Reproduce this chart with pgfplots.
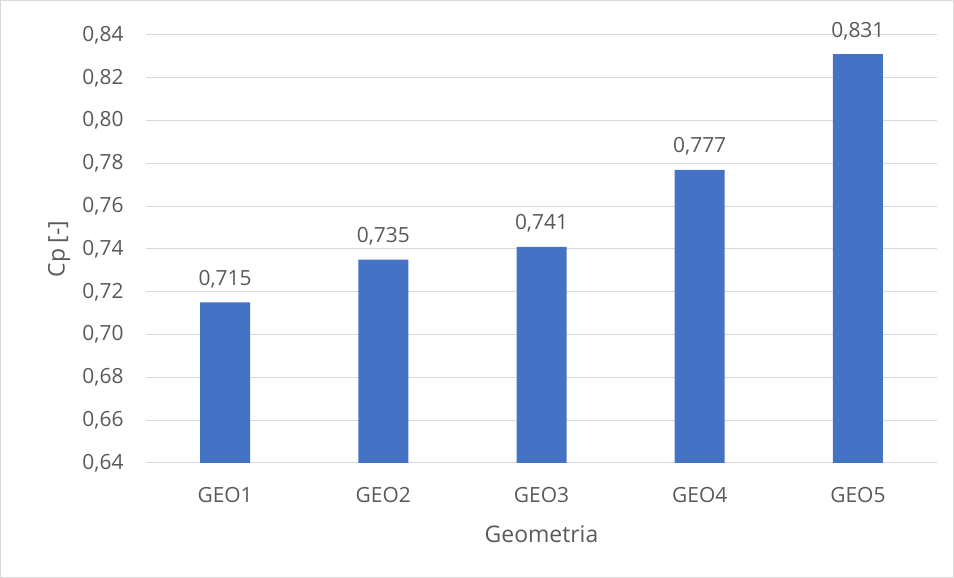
\documentclass[border=0pt]{standalone}
\usepackage{fontspec}
\setmainfont{Open Sans}
\usepackage{pgfplots}
\pgfplotsset{compat=1.18}
\definecolor{barblue}{HTML}{4472C4}
\definecolor{txt}{HTML}{595959}
\definecolor{gridc}{HTML}{D9D9D9}
\begin{document}
\begin{tikzpicture}[x=1bp,y=1bp]
\useasboundingbox (0,0) rectangle (954,578);
\draw[gridc, line width=1bp] (0.5,0.5) rectangle (953.5,577.5);
\begin{axis}[
  at={(146bp,115bp)}, anchor=south west,
  scale only axis, width=791bp, height=428bp,
  xmin=-0.5, xmax=4.5, ymin=0.64, ymax=0.84,
  ytick={0.64,0.66,0.68,0.70,0.72,0.74,0.76,0.78,0.80,0.82,0.84},
  xtick={0,1,2,3,4},
  xticklabels={GEO1,GEO2,GEO3,GEO4,GEO5},
  ymajorgrids, grid style={gridc, line width=1bp},
  axis x line*=bottom, axis y line*=left,
  y axis line style={draw=none},
  x axis line style={gridc, line width=1bp, -},
  major tick length=0pt,
  clip=false,
  /pgf/number format/assume math mode=true,
  yticklabel style={/pgf/number format/fixed, /pgf/number format/fixed zerofill, /pgf/number format/precision=2, /pgf/number format/use comma},
  tick label style={font=\fontsize{21}{25}\selectfont, text=txt},
  yticklabel style={xshift=-19bp},
  xticklabel style={anchor=base, yshift=-40bp},
  ybar, bar width=50bp,
  nodes near coords={\pgfmathprintnumber[fixed,fixed zerofill,precision=3,use comma,assume math mode=true]{\pgfplotspointmeta}},
  every node near coord/.append style={font=\fontsize{21}{25}\selectfont, text=txt, anchor=base, yshift=17bp},
]
\addplot[fill=barblue, draw=none] coordinates {(0,0.715) (1,0.735) (2,0.741) (3,0.777) (4,0.831)};
\node[rotate=90, anchor=center, font=\fontsize{23}{27}\selectfont, text=txt] at (rel axis cs:-0.110,0.5) {Cp [-]};
\node[anchor=base, font=\fontsize{23}{27}\selectfont, text=txt] at (rel axis cs:0.5,-0.1869) {Geometria};
\end{axis}
\end{tikzpicture}
\end{document}
